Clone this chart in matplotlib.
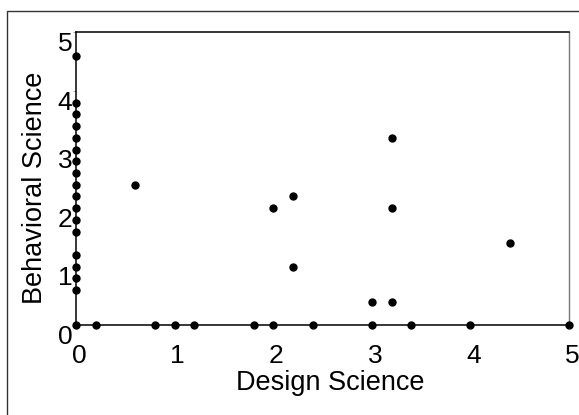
import matplotlib
matplotlib.use('Agg')
import matplotlib.pyplot as plt
import matplotlib.transforms as mtransforms
from matplotlib.patches import Rectangle

plt.rcParams['font.family'] = ['Liberation Sans', 'DejaVu Sans']

# points sitting on the y axis (design = 0)
axis_y_vals = [4.6, 3.8, 3.6, 3.4, 3.2, 3.0, 2.8, 2.6, 2.4, 2.2, 2.0, 1.8, 1.6, 1.2, 1.0, 0.8, 0.6, 0.0]
# points sitting on the x axis (behavioral = 0)
axis_x_vals = [0.2, 0.8, 1.0, 1.2, 1.8, 2.0, 2.4, 3.0, 3.4, 4.0, 5.0]
# the rest
other_design = [0.6, 2.0, 2.2, 2.2, 3.2, 3.2, 3.0, 3.2, 4.4]
other_behav = [2.4, 2.0, 2.2, 1.0, 3.2, 2.0, 0.4, 0.4, 1.4]

design = [0.0] * len(axis_y_vals) + axis_x_vals + other_design
behav = axis_y_vals + [0.0] * len(axis_x_vals) + other_behav

ticks = [0, 1, 2, 3, 4, 5]

fig = plt.figure(figsize=(5.79, 4.15), dpi=100)
ax = fig.add_axes([0.1313, 0.2161, 0.8515, 0.7056])

ax.plot(design, behav, 'o', color='black', ms=5, clip_on=False, zorder=3)

ax.set_xlim(0, 5)
ax.set_ylim(0, 5)
ax.set_xticks(ticks)
ax.set_yticks(ticks)
ax.tick_params(axis='x', length=0, pad=13.5, labelsize=19)
ax.tick_params(axis='y', length=2.5, width=0.6, color='#999999', pad=0.2, labelsize=19)

for sp in ['left', 'bottom', 'top']:
    ax.spines[sp].set_linewidth(1.1)
    ax.spines[sp].set_color('black')
ax.spines['right'].set_color('#777777')
ax.spines['right'].set_linewidth(1.0)

# shift tick labels like the original
dx = mtransforms.ScaledTranslation(3 / 100, 0, fig.dpi_scale_trans)
for lab in ax.get_xticklabels():
    lab.set_transform(lab.get_transform() + dx)
dy = mtransforms.ScaledTranslation(0, -9 / 100, fig.dpi_scale_trans)
for lab in ax.get_yticklabels():
    lab.set_transform(lab.get_transform() + dy)

fig.text(330 / 579, 1 - 390 / 415, 'Design Science', fontsize=19.5,
         ha='center', va='baseline')
fig.text(41.7 / 579, 1 - 187.5 / 415, 'Behavioral Science', fontsize=19.5,
         rotation=90, ha='center', va='baseline', rotation_mode='anchor')

# outer frame, cut off at right and bottom
fig.patches.append(Rectangle((7.5 / 579, -0.05), 1.2, 1 - 11 / 415 + 0.05,
                             transform=fig.transFigure, fill=False,
                             edgecolor='#333333', linewidth=1.0))

fig.savefig('out.png', dpi=100)
